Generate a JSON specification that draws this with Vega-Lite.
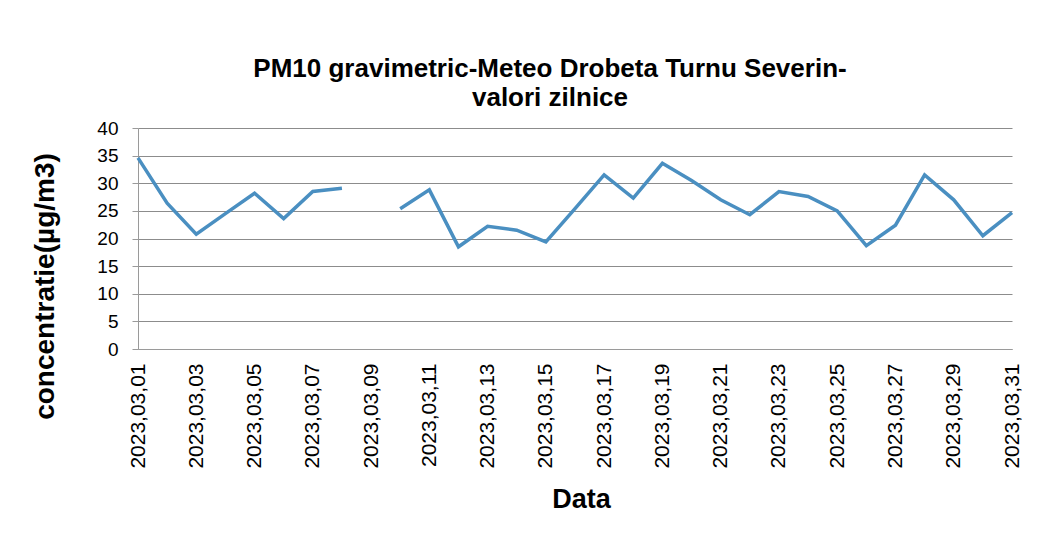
{
  "$schema": "https://vega.github.io/schema/vega-lite/v6.json",
  "autosize": {"type": "none"},
  "width": 874,
  "height": 221,
  "padding": {"left": 138, "top": 128, "right": 42, "bottom": 186},
  "background": "white",
  "title": {
    "text": ["PM10 gravimetric-Meteo Drobeta Turnu Severin-", "valori zilnice"],
    "font": "Liberation Sans",
    "fontSize": 26,
    "fontWeight": "bold",
    "color": "#000000",
    "anchor": "middle",
    "dx": -25,
    "offset": 8,
    "lineHeight": 29
  },
  "data": {
    "values": [
      {"data": "2023,03,01", "valoare": 34.6},
      {"data": "2023,03,02", "valoare": 26.4},
      {"data": "2023,03,03", "valoare": 20.8},
      {"data": "2023,03,04", "valoare": 24.5},
      {"data": "2023,03,05", "valoare": 28.2},
      {"data": "2023,03,06", "valoare": 23.6},
      {"data": "2023,03,07", "valoare": 28.5},
      {"data": "2023,03,08", "valoare": 29.1},
      {"data": "2023,03,09", "valoare": null},
      {"data": "2023,03,10", "valoare": 25.4},
      {"data": "2023,03,11", "valoare": 28.8},
      {"data": "2023,03,12", "valoare": 18.5},
      {"data": "2023,03,13", "valoare": 22.2},
      {"data": "2023,03,14", "valoare": 21.5},
      {"data": "2023,03,15", "valoare": 19.4},
      {"data": "2023,03,16", "valoare": 25.4},
      {"data": "2023,03,17", "valoare": 31.5},
      {"data": "2023,03,18", "valoare": 27.3},
      {"data": "2023,03,19", "valoare": 33.6},
      {"data": "2023,03,20", "valoare": 30.5},
      {"data": "2023,03,21", "valoare": 27.0},
      {"data": "2023,03,22", "valoare": 24.3},
      {"data": "2023,03,23", "valoare": 28.5},
      {"data": "2023,03,24", "valoare": 27.6},
      {"data": "2023,03,25", "valoare": 25.0},
      {"data": "2023,03,26", "valoare": 18.7},
      {"data": "2023,03,27", "valoare": 22.4},
      {"data": "2023,03,28", "valoare": 31.5},
      {"data": "2023,03,29", "valoare": 27.0},
      {"data": "2023,03,30", "valoare": 20.5},
      {"data": "2023,03,31", "valoare": 24.7}
    ]
  },
  "mark": {"type": "line", "color": "#4A8FC1", "strokeWidth": 3.5, "strokeJoin": "miter"},
  "encoding": {
    "x": {
      "field": "data",
      "type": "ordinal",
      "sort": null,
      "scale": {"type": "point", "padding": 0},
      "axis": {
        "title": "Data",
        "values": ["2023,03,01", "2023,03,03", "2023,03,05", "2023,03,07", "2023,03,09", "2023,03,11", "2023,03,13", "2023,03,15", "2023,03,17", "2023,03,19", "2023,03,21", "2023,03,23", "2023,03,25", "2023,03,27", "2023,03,29", "2023,03,31"],
        "labelAngle": -90,
        "labelFont": "Liberation Sans",
        "labelFontSize": 21,
        "labelColor": "#000000",
        "labelPadding": 14,
        "ticks": false,
        "grid": false,
        "domainColor": "#9a9a9a",
        "titleFont": "Liberation Sans",
        "titleFontSize": 27,
        "titleFontWeight": "bold",
        "titleColor": "#000000",
        "titlePadding": 18,
        "titleX": 443
      }
    },
    "y": {
      "field": "valoare",
      "type": "quantitative",
      "scale": {"domain": [0, 40], "nice": false},
      "axis": {
        "title": "concentratie(µg/m3)",
        "values": [0, 5, 10, 15, 20, 25, 30, 35, 40],
        "labelFont": "Liberation Sans",
        "labelFontSize": 19,
        "labelColor": "#000000",
        "labelPadding": 14,
        "tickSize": 6,
        "tickColor": "#9a9a9a",
        "domainColor": "#9a9a9a",
        "gridColor": "#8c8c8c",
        "gridOpacity": 1,
        "titleFont": "Liberation Sans",
        "titleFontSize": 28,
        "titleFontWeight": "bold",
        "titleColor": "#000000",
        "titleAlign": "center",
        "titleBaseline": "middle",
        "titleAngle": -90,
        "titleX": -93,
        "titleY": 158
      }
    }
  },
  "config": {
    "view": {"stroke": null}
  }
}
